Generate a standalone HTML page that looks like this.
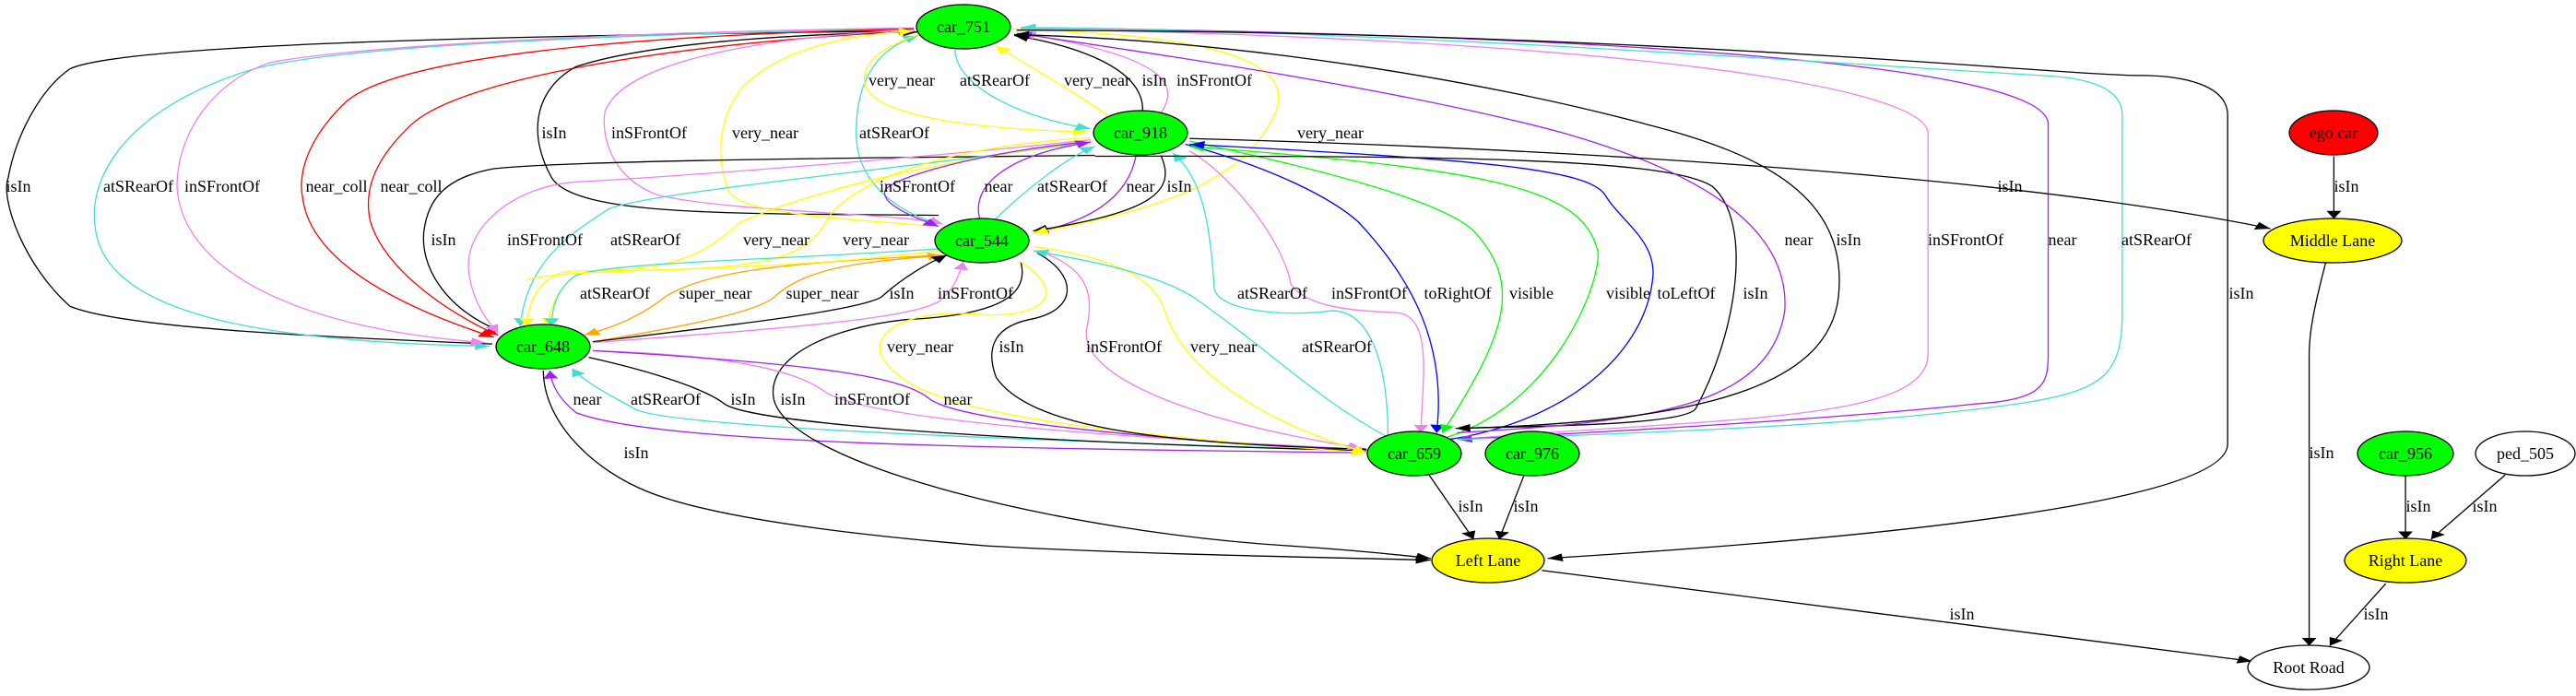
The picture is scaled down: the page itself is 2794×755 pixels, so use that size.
<!DOCTYPE html>
<html><head><meta charset="utf-8"><style>
html,body{margin:0;padding:0;background:#fff;}
svg{display:block;}
text{font-family:"Liberation Serif",serif;font-size:18px;fill:#000;}
.e path{fill:none;stroke-width:1.3;vector-effect:non-scaling-stroke;}
</style></head><body>
<svg width="2794" height="755" viewBox="0 0 2794 755" xmlns="http://www.w3.org/2000/svg">
<defs>
<marker id="mk" viewBox="0 0 10 10" refX="10" refY="5" markerUnits="userSpaceOnUse" markerWidth="18" markerHeight="18" orient="auto"><path d="M0,0L10,5L0,10z" fill="#000"/></marker>
<marker id="mr" viewBox="0 0 10 10" refX="10" refY="5" markerUnits="userSpaceOnUse" markerWidth="18" markerHeight="18" orient="auto"><path d="M0,0L10,5L0,10z" fill="#f00"/></marker>
<marker id="mp" viewBox="0 0 10 10" refX="10" refY="5" markerUnits="userSpaceOnUse" markerWidth="18" markerHeight="18" orient="auto"><path d="M0,0L10,5L0,10z" fill="#a020f0"/></marker>
<marker id="mc" viewBox="0 0 10 10" refX="10" refY="5" markerUnits="userSpaceOnUse" markerWidth="18" markerHeight="18" orient="auto"><path d="M0,0L10,5L0,10z" fill="#40e0d0"/></marker>
<marker id="mv" viewBox="0 0 10 10" refX="10" refY="5" markerUnits="userSpaceOnUse" markerWidth="18" markerHeight="18" orient="auto"><path d="M0,0L10,5L0,10z" fill="#ee82ee"/></marker>
<marker id="my" viewBox="0 0 10 10" refX="10" refY="5" markerUnits="userSpaceOnUse" markerWidth="18" markerHeight="18" orient="auto"><path d="M0,0L10,5L0,10z" fill="#ff0"/></marker>
<marker id="mo" viewBox="0 0 10 10" refX="10" refY="5" markerUnits="userSpaceOnUse" markerWidth="18" markerHeight="18" orient="auto"><path d="M0,0L10,5L0,10z" fill="#ffa500"/></marker>
<marker id="mb" viewBox="0 0 10 10" refX="10" refY="5" markerUnits="userSpaceOnUse" markerWidth="18" markerHeight="18" orient="auto"><path d="M0,0L10,5L0,10z" fill="#00f"/></marker>
<marker id="mg" viewBox="0 0 10 10" refX="10" refY="5" markerUnits="userSpaceOnUse" markerWidth="18" markerHeight="18" orient="auto"><path d="M0,0L10,5L0,10z" fill="#0f0"/></marker>
</defs>
<g class="e" transform="scale(0.8929,0.4815)">
<path stroke="#000" marker-end="url(#mk)" d="M598,775 C400,760 150,740 85,690 C30,600 0,450 10,400 C20,300 50,200 85,155 C150,100 600,80 1110,70"/>
<path stroke="#40e0d0" marker-end="url(#mc)" d="M1110,65 C800,75 400,100 300,160 C150,250 110,400 115,500 C120,700 300,770 595,780"/>
<path stroke="#ee82ee" marker-end="url(#mv)" d="M1110,63 C800,70 450,100 330,140 C260,180 215,300 215,420 C220,600 350,740 590,772"/>
<path stroke="#f00" marker-end="url(#mr)" d="M1110,65 C750,80 480,130 420,230 C380,300 360,380 368,450 C380,600 500,700 600,760"/>
<path stroke="#f00" marker-end="url(#mr)" d="M1110,70 C800,100 560,180 500,280 C460,350 440,420 450,500 C470,620 560,720 605,755"/>
<path stroke="#000" marker-end="url(#mk)" d="M1140,485 C900,480 700,490 670,400 C640,300 650,200 700,150 C800,90 1000,75 1115,72"/>
<path stroke="#ee82ee" marker-end="url(#mv)" d="M1110,68 C950,80 760,130 735,250 C730,300 740,400 800,440 C900,480 1100,480 1145,505"/>
<path stroke="#ff0" marker-end="url(#my)" d="M1140,510 C1000,490 900,480 885,430 C865,330 880,250 900,200 C950,100 1050,75 1110,70"/>
<path stroke="#40e0d0" marker-end="url(#mc)" d="M1140,505 C1080,470 1040,400 1040,300 C1040,150 1080,100 1115,80"/>
<path stroke="#ff0" marker-end="url(#my)" d="M1120,75 C1080,100 1050,130 1050,180 C1050,250 1150,290 1322,297"/>
<path stroke="#40e0d0" marker-end="url(#mc)" d="M1160,110 C1160,200 1250,270 1325,290"/>
<path stroke="#ff0" marker-end="url(#my)" d="M1345,260 C1300,200 1250,150 1210,103"/>
<path stroke="#000" marker-end="url(#mk)" d="M1388,250 C1390,150 1300,100 1232,80"/>
<path stroke="#ee82ee" marker-end="url(#mv)" d="M1410,255 C1430,200 1430,130 1240,75"/>
<path stroke="#000" d="M600,740 C540,690 510,600 515,520 C520,450 540,400 600,380 C700,360 1100,355 1330,350"/>
<path stroke="#ee82ee" marker-end="url(#mv)" d="M1325,315 C1100,360 800,400 700,410 C620,420 560,520 570,620 C575,680 590,720 605,750"/>
<path stroke="#40e0d0" marker-end="url(#mc)" d="M1325,320 C1100,380 800,430 740,470 C700,520 640,580 632,735"/>
<path stroke="#ff0" marker-end="url(#my)" d="M1320,320 C1150,360 1000,420 900,500 C850,580 820,610 700,610 C650,610 640,700 640,735"/>
<path stroke="#ff0" marker-end="url(#my)" d="M1325,310 C1150,330 1050,400 1010,480 C980,580 950,610 720,610 C680,615 668,700 665,735"/>
<path stroke="#a020f0" marker-end="url(#mp)" d="M1320,320 C1200,340 1080,400 1075,430 C1070,460 1110,490 1140,510"/>
<path stroke="#a020f0" marker-end="url(#mp)" d="M1190,492 C1180,420 1220,350 1325,320"/>
<path stroke="#40e0d0" marker-end="url(#mc)" d="M1210,492 C1250,420 1300,350 1330,330"/>
<path stroke="#a020f0" marker-end="url(#mp)" d="M1380,350 C1370,450 1320,500 1255,525"/>
<path stroke="#000" marker-end="url(#mk)" d="M1410,350 C1430,430 1400,480 1255,520"/>
<path stroke="#ff0" marker-end="url(#my)" d="M1230,65 C1500,80 1570,150 1550,250 C1520,380 1450,460 1255,525"/>
<path stroke="#ffa500" marker-end="url(#mo)" d="M1140,575 C1000,590 850,600 800,680 C770,720 740,740 710,755"/>
<path stroke="#ffa500" marker-end="url(#mo)" d="M720,770 C850,730 920,700 940,670 C980,600 1050,590 1145,575"/>
<path stroke="#000" marker-end="url(#mk)" d="M720,770 C900,730 1040,700 1070,670 C1100,620 1130,590 1150,575"/>
<path stroke="#ee82ee" marker-end="url(#mv)" d="M720,772 C950,740 1100,720 1140,680 C1160,650 1165,620 1170,590"/>
<path stroke="#40e0d0" marker-end="url(#mc)" d="M1145,560 C900,590 750,590 700,620 C675,650 670,700 670,735"/>
<path stroke="#ff0" d="M1140,565 C900,620 700,600 640,630"/>
<path stroke="#a020f0" marker-end="url(#mp)" d="M1660,1020 C1200,1010 800,1000 700,930 C680,900 670,870 668,835"/>
<path stroke="#40e0d0" marker-end="url(#mc)" d="M1660,1015 C1200,990 800,960 770,920 C740,890 710,860 695,830"/>
<path stroke="#000" marker-end="url(#mk)" d="M715,805 C800,840 860,880 880,910 C920,960 1300,1000 1660,1015"/>
<path stroke="#000" marker-end="url(#mk)" d="M1240,590 C1250,660 1220,710 1100,720 C1000,740 930,810 940,900 C960,1050 1300,1200 1568,1230 C1650,1240 1700,1250 1738,1258"/>
<path stroke="#ee82ee" marker-end="url(#mv)" d="M720,790 C900,800 970,840 1000,880 C1050,950 1400,990 1660,1012"/>
<path stroke="#a020f0" marker-end="url(#mp)" d="M720,790 C1000,820 1100,850 1130,900 C1170,950 1400,990 1660,1015"/>
<path stroke="#000" marker-end="url(#mk)" d="M660,835 C660,950 720,1060 790,1110 C860,1160 1000,1200 1200,1230 C1400,1250 1600,1255 1738,1262"/>
<path stroke="#ff0" marker-end="url(#my)" d="M1240,590 C1290,650 1280,710 1200,710 C1100,690 1060,750 1070,800 C1100,900 1200,960 1660,1020"/>
<path stroke="#000" marker-end="url(#mk)" d="M1260,570 C1310,620 1310,700 1250,720 C1200,740 1200,800 1210,850 C1250,960 1400,1000 1660,1012"/>
<path stroke="#ee82ee" marker-end="url(#mv)" d="M1260,565 C1320,600 1330,660 1320,740 C1310,850 1450,950 1655,1010"/>
<path stroke="#ff0" marker-end="url(#my)" d="M1255,555 C1350,580 1400,620 1415,700 C1440,850 1550,960 1660,1020"/>
<path stroke="#40e0d0" marker-end="url(#mc)" d="M1686,985 C1600,900 1550,800 1450,670 C1400,610 1300,580 1255,565"/>
<path stroke="#40e0d0" marker-end="url(#mc)" d="M1686,985 C1686,800 1660,700 1618,700 C1560,715 1480,700 1475,650 C1470,500 1460,400 1425,345"/>
<path stroke="#ee82ee" marker-end="url(#mv)" d="M1445,340 C1500,400 1560,550 1568,640 C1590,700 1660,700 1700,705 C1740,720 1728,850 1726,975"/>
<path stroke="#00f" marker-end="url(#mb)" d="M1440,325 C1550,380 1620,450 1650,500 C1700,600 1760,750 1745,975"/>
<path stroke="#0f0" marker-end="url(#mg)" d="M1445,318 C1600,380 1750,450 1790,520 C1850,640 1830,750 1752,975"/>
<path stroke="#0f0" marker-end="url(#mg)" d="M1758,985 C1900,900 1950,600 1940,560 C1920,420 1800,380 1445,330"/>
<path stroke="#00f" marker-end="url(#mb)" d="M1760,990 C1900,950 2000,800 2008,620 C2010,540 1970,500 1950,440 C1930,380 1800,360 1445,325"/>
<path stroke="#000" marker-end="url(#mk)" d="M1330,352 C1800,350 2030,360 2080,420 C2130,500 2110,750 2060,920 C2050,955 1900,960 1768,965"/>
<path stroke="#a020f0" marker-end="url(#mp)" d="M1770,975 C2000,950 2150,920 2168,700 C2175,500 2050,380 1900,300 C1700,200 1400,120 1235,75"/>
<path stroke="#000" marker-end="url(#mk)" d="M1770,965 C2100,950 2230,850 2234,650 C2240,450 2150,350 2000,280 C1800,180 1500,90 1232,78"/>
<path stroke="#ee82ee" marker-end="url(#mv)" d="M1240,65 C2000,90 2340,200 2342,300 L2342,800 C2340,950 2100,940 1770,990"/>
<path stroke="#a020f0" marker-end="url(#mp)" d="M1240,62 C2000,80 2488,150 2488,280 L2488,800 C2488,870 2480,900 2400,910 C2300,930 2100,960 1770,990"/>
<path stroke="#40e0d0" marker-end="url(#mc)" d="M1770,990 C2100,970 2300,950 2450,910 C2560,880 2578,840 2578,700 L2578,260 C2578,200 2540,175 2480,170 C2200,140 1700,70 1240,62"/>
<path stroke="#000" marker-end="url(#mk)" d="M1235,68 C2000,70 2500,170 2600,170 C2650,170 2706,190 2706,260 L2706,1000 C2706,1130 2300,1210 1880,1258"/>
<path stroke="#000" marker-end="url(#mk)" d="M1445,312 C1800,330 2400,380 2758,515"/>
<path stroke="#000" marker-end="url(#mk)" d="M1736,1070 L1790,1215"/>
<path stroke="#000" marker-end="url(#mk)" d="M1851,1072 L1821,1215"/>
<path stroke="#000" marker-end="url(#mk)" d="M2835,352 L2835,493"/>
<path stroke="#000" marker-end="url(#mk)" d="M2825,592 C2810,700 2805,750 2805,800 L2805,1455"/>
<path stroke="#000" marker-end="url(#mk)" d="M2922,1072 L2922,1215"/>
<path stroke="#000" marker-end="url(#mk)" d="M3043,1070 L2953,1215"/>
<path stroke="#000" marker-end="url(#mk)" d="M2898,1315 L2830,1455"/>
<path stroke="#000" marker-end="url(#mk)" d="M1873,1285 L2736,1490"/>
</g>
<g stroke="#000" stroke-width="1.3">
<ellipse cx="1045" cy="29" rx="51" ry="24" fill="#0f0"/>
<ellipse cx="1237" cy="144" rx="51" ry="24" fill="#0f0"/>
<ellipse cx="1065" cy="261" rx="51" ry="24" fill="#0f0"/>
<ellipse cx="589" cy="376" rx="51" ry="24" fill="#0f0"/>
<ellipse cx="1534" cy="492" rx="51" ry="24" fill="#0f0"/>
<ellipse cx="1662" cy="492" rx="51" ry="24" fill="#0f0"/>
<ellipse cx="1614" cy="608" rx="61" ry="24" fill="#ff0"/>
<ellipse cx="2530" cy="261" rx="75" ry="24" fill="#ff0"/>
<ellipse cx="2531" cy="144" rx="48" ry="24" fill="#f00"/>
<ellipse cx="2609" cy="492" rx="52" ry="24" fill="#0f0"/>
<ellipse cx="2739" cy="492" rx="54" ry="24" fill="#fff"/>
<ellipse cx="2609" cy="608" rx="66" ry="24" fill="#ff0"/>
<ellipse cx="2504" cy="724" rx="66" ry="24" fill="#fff"/>
</g>
<g text-anchor="middle">
<text x="1045" y="35">car_751</text>
<text x="1237" y="150">car_918</text>
<text x="1065" y="267">car_544</text>
<text x="589" y="382">car_648</text>
<text x="1534" y="498">car_659</text>
<text x="1662" y="498">car_976</text>
<text x="1614" y="614">Left Lane</text>
<text x="2530" y="267">Middle Lane</text>
<text x="2531" y="150">ego car</text>
<text x="2609" y="498">car_956</text>
<text x="2739" y="498">ped_505</text>
<text x="2609" y="614">Right Lane</text>
<text x="2504" y="730">Root Road</text>
</g>
<g text-anchor="middle">
<text x="978" y="93">very_near</text><text x="1079" y="93">atSRearOf</text><text x="1190" y="93">very_near</text><text x="1252" y="93">isIn</text><text x="1317" y="93">inSFrontOf</text>
<text x="601" y="150">isIn</text><text x="704" y="150">inSFrontOf</text><text x="830" y="150">very_near</text><text x="970" y="150">atSRearOf</text><text x="1443" y="150">very_near</text>
<text x="20" y="208">isIn</text><text x="150" y="208">atSRearOf</text><text x="241" y="208">inSFrontOf</text><text x="365" y="208">near_coll</text><text x="446" y="208">near_coll</text><text x="995" y="208">inSFrontOf</text><text x="1083" y="208">near</text><text x="1163" y="208">atSRearOf</text><text x="1237" y="208">near</text><text x="1279" y="208">isIn</text><text x="2180" y="208">isIn</text><text x="2545" y="208">isIn</text>
<text x="1951" y="266">near</text><text x="2005" y="266">isIn</text><text x="2132" y="266">inSFrontOf</text><text x="2237" y="266">near</text><text x="2339" y="266">atSRearOf</text>
<text x="481" y="266">isIn</text><text x="591" y="266">inSFrontOf</text><text x="700" y="266">atSRearOf</text><text x="842" y="266">very_near</text><text x="950" y="266">very_near</text>
<text x="667" y="324">atSRearOf</text><text x="776" y="324">super_near</text><text x="892" y="324">super_near</text><text x="978" y="324">isIn</text><text x="1058" y="324">inSFrontOf</text><text x="1380" y="324">atSRearOf</text><text x="1485" y="324">inSFrontOf</text><text x="1581" y="324">toRightOf</text><text x="1661" y="324">visible</text><text x="1766" y="324">visible</text><text x="1829" y="324">toLeftOf</text><text x="1904" y="324">isIn</text><text x="2431" y="324">isIn</text>
<text x="998" y="382">very_near</text><text x="1097" y="382">isIn</text><text x="1219" y="382">inSFrontOf</text><text x="1327" y="382">very_near</text><text x="1450" y="382">atSRearOf</text>
<text x="637" y="439">near</text><text x="722" y="439">atSRearOf</text><text x="806" y="439">isIn</text><text x="860" y="439">isIn</text><text x="946" y="439">inSFrontOf</text><text x="1039" y="439">near</text>
<text x="690" y="497">isIn</text><text x="2518" y="497">isIn</text>
<text x="1595" y="555">isIn</text><text x="1655" y="555">isIn</text><text x="2623" y="555">isIn</text><text x="2695" y="555">isIn</text>
<text x="2128" y="672">isIn</text><text x="2577" y="672">isIn</text>
</g>
</svg>
</body></html>
